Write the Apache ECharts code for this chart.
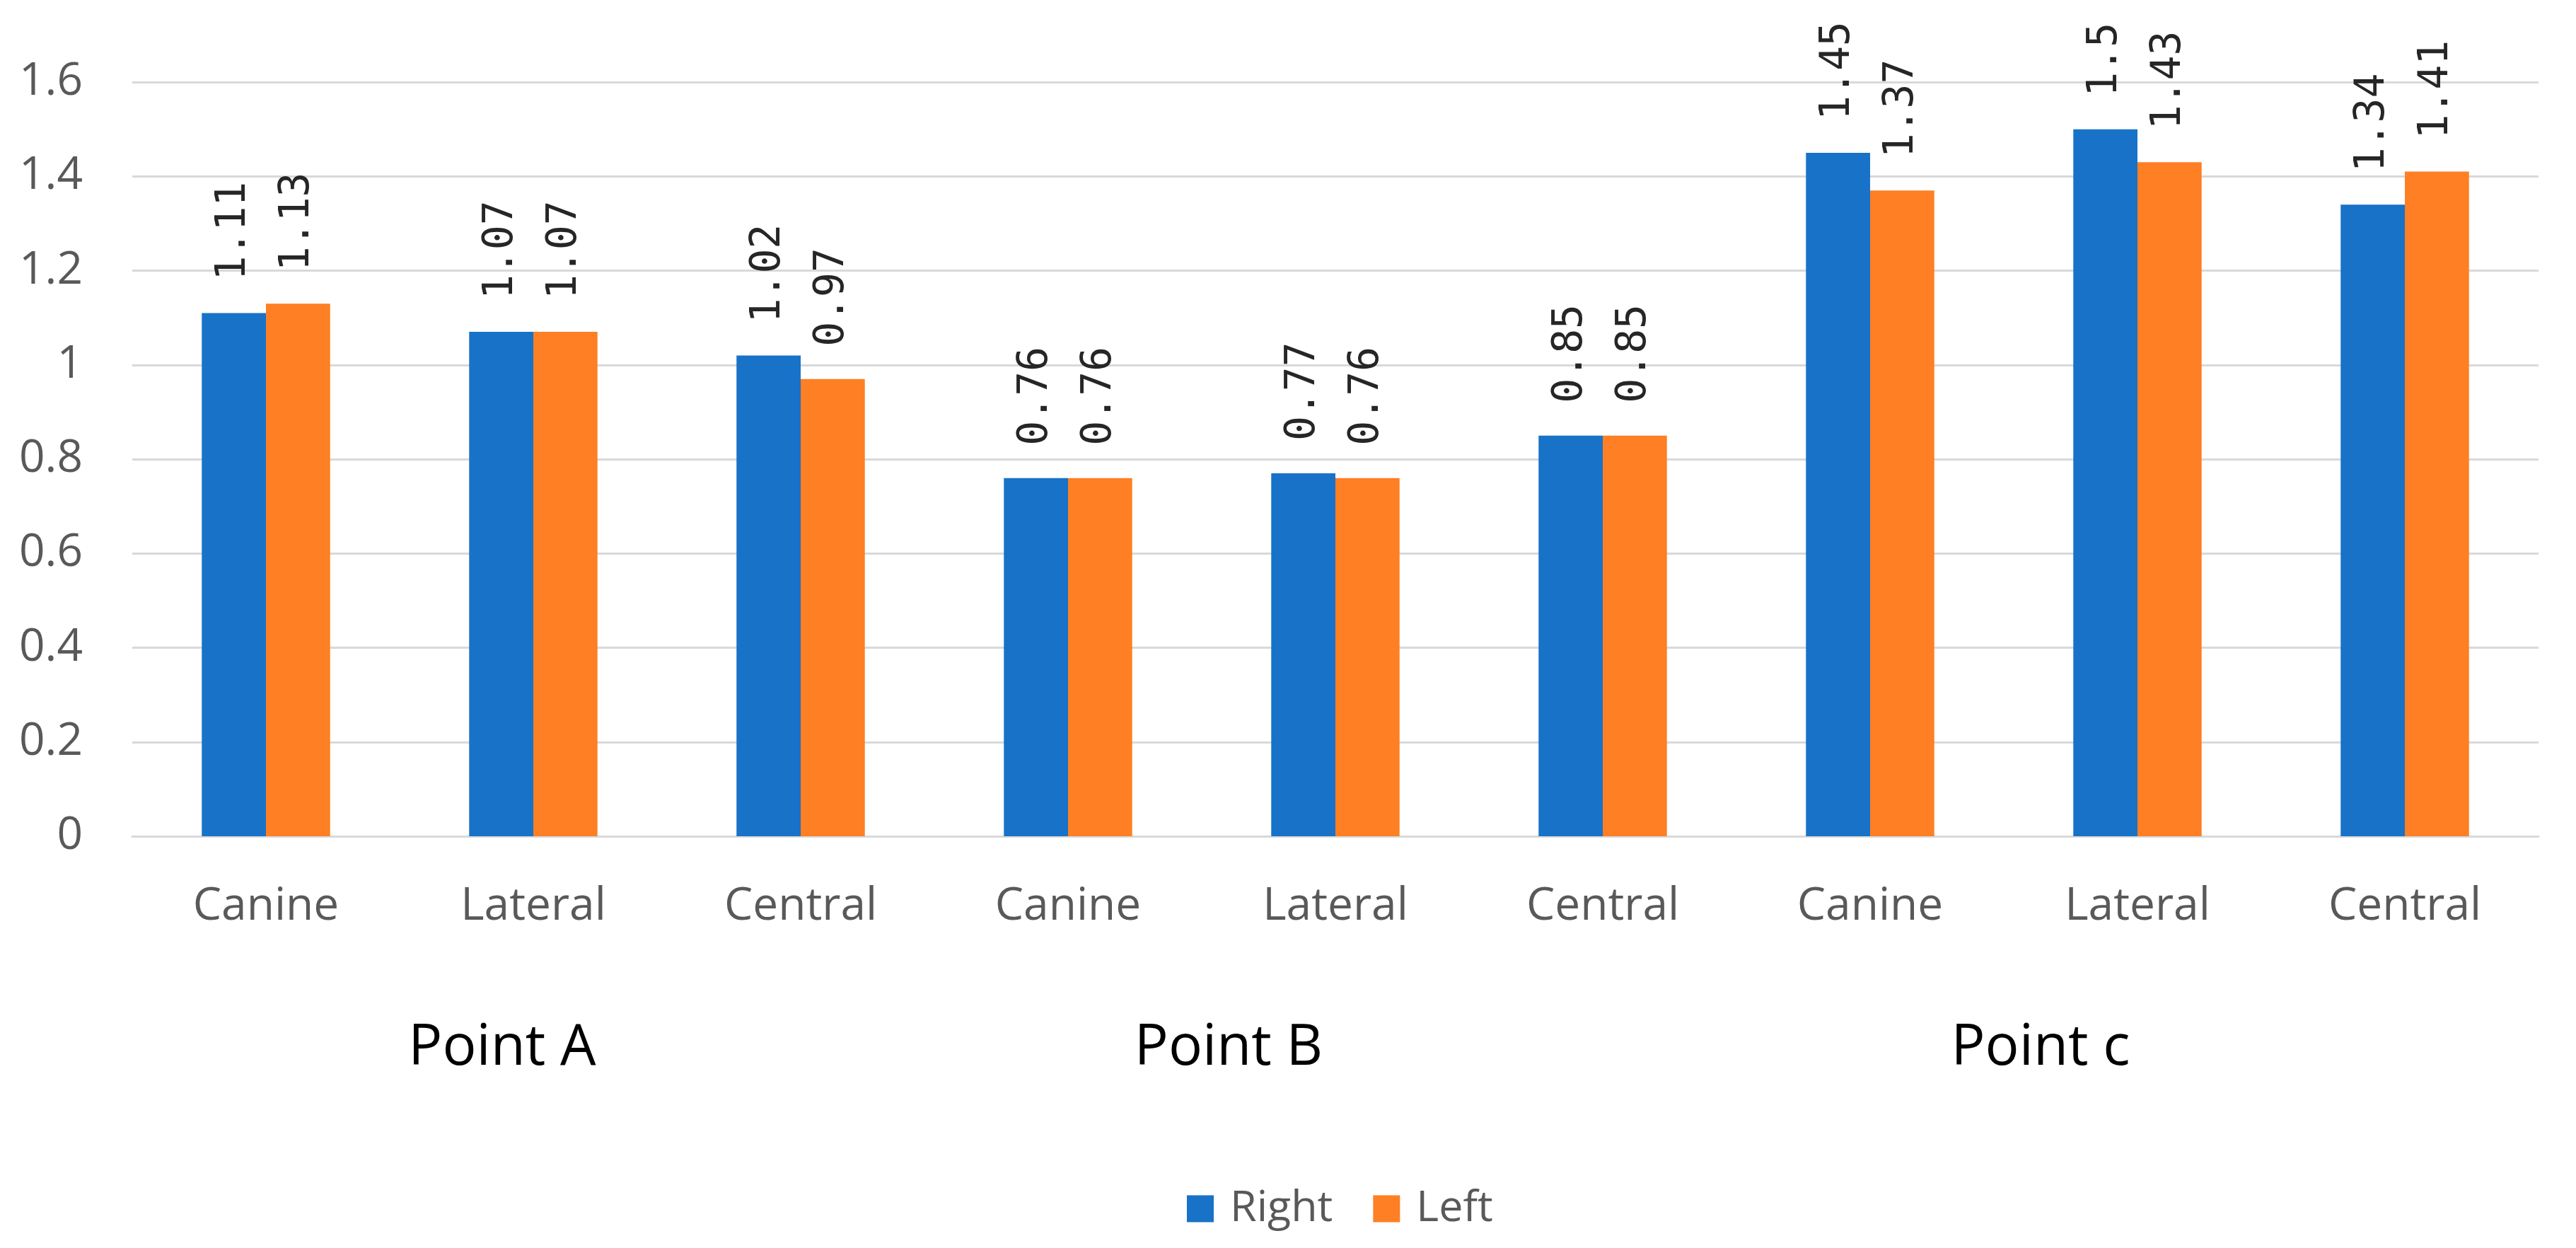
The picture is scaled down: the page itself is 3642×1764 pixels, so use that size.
<!DOCTYPE html>
<html>
<head>
<meta charset="utf-8">
<script src="https://cdn.jsdelivr.net/npm/echarts@6/dist/echarts.min.js"></script>
<style>
html,body{margin:0;padding:0;background:#fff;}
#chart{width:3642px;height:1764px;}
</style>
</head>
<body>
<div id="chart"></div>
<script>
const categories = ['Canine','Lateral','Central','Canine','Lateral','Central','Canine','Lateral','Central'];
const groupLabels = ['Point A','Point B','Point c'];
const rightValues = [1.11,1.07,1.02,0.76,0.77,0.85,1.45,1.5,1.34];
const leftValues  = [1.13,1.07,0.97,0.76,0.76,0.85,1.37,1.43,1.41];
const seriesNames = ['Right','Left'];

const FONT = '"Open Sans", "Noto Sans", sans-serif';
const chart = echarts.init(document.getElementById('chart'));

const labelStyle = {
  show: true,
  position: 'top',
  rotate: 90,
  align: 'left',
  verticalAlign: 'middle',
  distance: 46,
  fontFamily: '"DejaVu Sans Mono", monospace',
  fontSize: 58,
  color: '#262626'
};

const groupX = [710, 1737, 2885];

chart.setOption({
  animation: false,
  backgroundColor: '#ffffff',
  grid: { left: 187, right: 53, top: 116, bottom: 582 },
  legend: {
    data: seriesNames,
    left: 1673,
    top: 1673,
    itemWidth: 38,
    itemHeight: 38,
    itemGap: 57,
    icon: 'rect',
    textStyle: { fontFamily: FONT, fontSize: 61, color: '#595959', padding: [0,0,0,18] }
  },
  xAxis: {
    type: 'category',
    data: categories,
    axisLine: { lineStyle: { color: '#d9d9d9', width: 3 } },
    axisTick: { show: false },
    axisLabel: { fontFamily: FONT, fontSize: 64, color: '#595959', margin: 68, interval: 0 }
  },
  yAxis: {
    type: 'value',
    min: 0, max: 1.6, interval: 0.2,
    axisLine: { show: false },
    axisTick: { show: false },
    splitLine: { lineStyle: { color: '#d9d9d9', width: 3 } },
    axisLabel: { fontFamily: FONT, fontSize: 64, color: '#595959', margin: 70 }
  },
  series: [
    { name: seriesNames[0], type: 'bar', data: rightValues, barGap: '0%', barCategoryGap: '52%',
      itemStyle: { color: '#1872C8' }, label: labelStyle },
    { name: seriesNames[1], type: 'bar', data: leftValues,
      itemStyle: { color: '#FE7F24' }, label: labelStyle }
  ],
  graphic: groupLabels.map((g, i) => ({
    type: 'text',
    x: groupX[i], y: 1482,
    style: { text: g, fontFamily: FONT, fontSize: 80, fill: '#000000', align: 'center', verticalAlign: 'middle' }
  }))
});
</script>
</body>
</html>
